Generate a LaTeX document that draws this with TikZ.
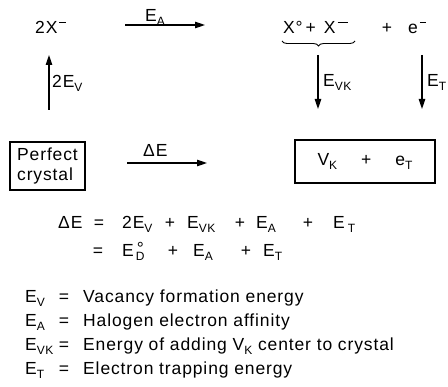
\documentclass[tikz,border=0pt]{standalone}
\usepackage{fontspec}
\setmainfont[LetterSpace=5]{Liberation Sans}
\usetikzlibrary{arrows.meta,decorations.pathreplacing}
\newcommand\lettering{\fontsize{17.5}{20}\selectfont}
\newcommand\subs[1]{\raisebox{-4pt}{\fontsize{12}{12}\selectfont #1}}
\newcommand\chg[1]{\hspace{2pt}\raisebox{11pt}{\rule{#1}{1.2pt}}}
\newcommand\degsubs[1]{\makebox[0pt][l]{\hspace{1pt}\raisebox{2pt}{°}}\subs{#1}}
\tikzset{
  every node/.style={font=\lettering, inner sep=0pt},
  >={Triangle[length=10pt,width=6.5pt]},
  arr/.style={->, line width=1.1pt},
  framebox/.style={draw, line width=1.3pt},
  txt/.style={anchor=base west},
  ctr/.style={anchor=base},
}
\begin{document}
\begin{tikzpicture}[x=1pt,y=-1pt]
  \useasboundingbox (0,0) rectangle (448,387);
  % top row
  \node[txt] (twoX) at (35,34) {2X\chg{7pt}};
  \node[txt] (xpair) at (283,34) {X°\hspace{3pt}+\hspace{8pt}X\chg{10pt}};
  \node[ctr] (plusE) at (387,34) {+};
  \node[txt] (elec) at (408,34) {e\chg{6pt}};
  \coordinate (br-l) at (282,41);
  \coordinate (br-r) at (355,41);
  \draw[line width=0.9pt, decorate, decoration={brace,mirror,amplitude=5pt}] (br-l) -- (br-r);
  % arrows of the cycle
  \coordinate (ea-s) at (125,25);
  \coordinate (ea-e) at (205,25);
  \draw[arr] (ea-s) -- (ea-e);
  \node[txt] (lEA) at (145,22) {E\subs{A}};
  \coordinate (ev-s) at (49,110);
  \coordinate (ev-e) at (49,55);
  \draw[arr] (ev-s) -- (ev-e);
  \node[txt] (lEV) at (52,88) {2E\subs{V}};
  \coordinate (evk-s) at (318,55);
  \coordinate (evk-e) at (318,109);
  \draw[arr] (evk-s) -- (evk-e);
  \node[txt] (lEVK) at (323,87) {E\subs{VK}};
  \coordinate (et-s) at (422,55);
  \coordinate (et-e) at (422,109);
  \draw[arr] (et-s) -- (et-e);
  \node[txt] (lET) at (427,87) {E\subs{T}};
  % bottom row
  \node[framebox, minimum width=75pt, minimum height=48pt, align=left] (perf) at (47.5,166) {Perfect\\crystal};
  \node[framebox, minimum width=140pt, minimum height=43pt] (vkbox) at (365,161.5) {V\subs{K}\hspace{24pt}+\hspace{24pt}e\subs{T}};
  \coordinate (de-s) at (127,163);
  \coordinate (de-e) at (207,163);
  \draw[arr] (de-s) -- (de-e);
  \node[txt] (lDE) at (143,157) {ΔE};
  % energy balance
  \node[txt] (dE) at (58,229) {ΔE};
  \node[ctr] (eqA) at (99,229) {=};
  \node[txt] (sA1) at (122,229) {2E\subs{V}};
  \node[ctr] (pA1) at (170,229) {+};
  \node[txt] (sA2) at (187,229) {E\subs{VK}};
  \node[ctr] (pA2) at (240,229) {+};
  \node[txt] (sA3) at (256,229) {E\subs{A}};
  \node[ctr] (pA3) at (308,229) {+};
  \node[txt] (sA4) at (333,229) {E\hspace{3pt}\subs{T}};
  \node[ctr] (eqB) at (98,257) {=};
  \node[txt] (sB1) at (122,257) {E\hspace{2pt}\degsubs{D}};
  \node[ctr] (pB1) at (173,257) {+};
  \node[txt] (sB2) at (193,257) {E\subs{A}};
  \node[ctr] (pB2) at (246,257) {+};
  \node[txt] (sB3) at (263,257) {E\subs{T}};
  % legend
  \foreach \sym/\what [count=\i] in {E\subs{V}/Vacancy formation energy,
      E\subs{A}/Halogen electron affinity,
      E\subs{VK}/Energy of adding V\subs{K} center to crystal,
      E\subs{T}/Electron trapping energy} {
    \node[txt] (sym\i) at (25,303+24*\i-24) {\sym};
    \node[ctr] (eq\i) at (64,303+24*\i-24) {=};
    \node[txt] (def\i) at (83,303+24*\i-24) {\what};
  }
\end{tikzpicture}
\end{document}
